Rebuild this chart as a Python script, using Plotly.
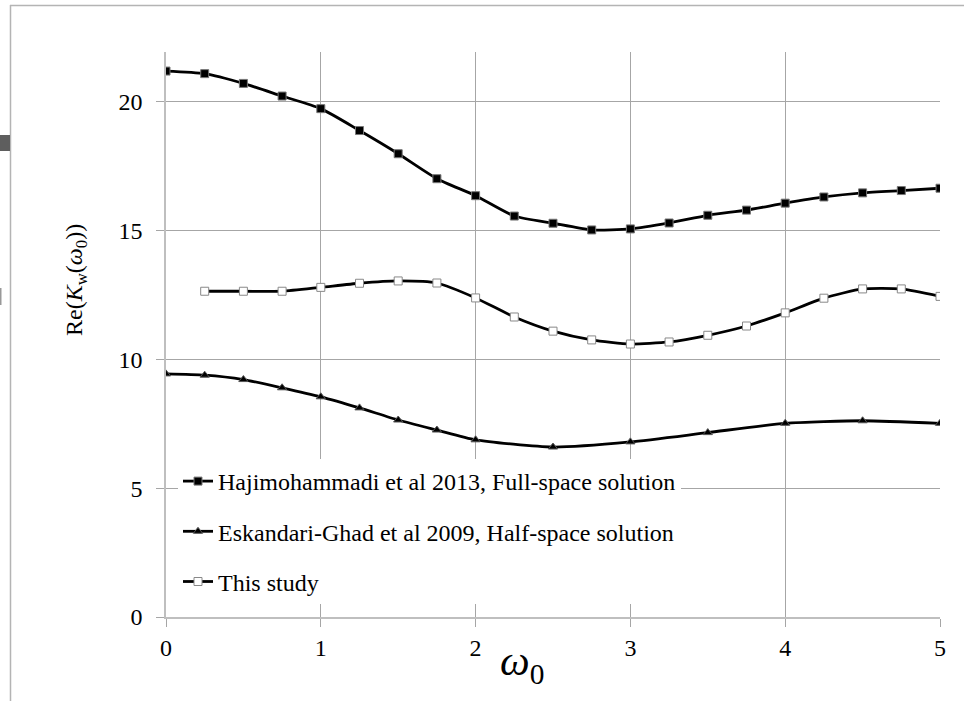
import plotly.graph_objects as go

# Data
x_haji = [0, 0.25, 0.5, 0.75, 1, 1.25, 1.5, 1.75, 2, 2.25, 2.5, 2.75, 3, 3.25, 3.5, 3.75, 4, 4.25, 4.5, 4.75, 5]
y_haji = [21.20, 21.10, 20.72, 20.23, 19.74, 18.89, 17.99, 17.02, 16.36, 15.57, 15.29, 15.03, 15.07, 15.30, 15.60, 15.80, 16.07, 16.31, 16.47, 16.56, 16.65]

x_esk = [0, 0.25, 0.5, 0.75, 1, 1.25, 1.5, 1.75, 2, 2.5, 3, 3.5, 4, 4.5, 5]
y_esk = [9.44, 9.39, 9.22, 8.90, 8.55, 8.12, 7.65, 7.26, 6.88, 6.60, 6.80, 7.16, 7.52, 7.62, 7.52]

x_this = [0.25, 0.5, 0.75, 1, 1.25, 1.5, 1.75, 2, 2.25, 2.5, 2.75, 3, 3.25, 3.5, 3.75, 4, 4.25, 4.5, 4.75, 5]
y_this = [12.65, 12.65, 12.65, 12.80, 12.96, 13.05, 12.97, 12.39, 11.65, 11.10, 10.76, 10.60, 10.68, 10.94, 11.30, 11.81, 12.38, 12.74, 12.74, 12.45]

names = ["Hajimohammadi et al 2013, Full-space solution",
         "Eskandari-Ghad et al 2009, Half-space solution",
         "This study"]
x_ticks = [0, 1, 2, 3, 4, 5]
y_ticks = [0, 5, 10, 15, 20]

W, H = 964, 701
L, R, T, B = 166, 940, 52, 617

def px(xp):
    return (xp - L) / (R - L)

def py(yp):
    return (B - yp) / (B - T)

font_serif = "Liberation Serif, Times New Roman, serif"

fig = go.Figure()
fig.add_trace(go.Scatter(
    x=x_haji, y=y_haji, name=names[0], mode="lines+markers",
    line=dict(color="black", width=2.8, shape="spline", smoothing=0.6),
    marker=dict(symbol="square", size=8, color="black", line=dict(color="#777777", width=1)),
    legendgroup="a"))
fig.add_trace(go.Scatter(
    x=x_esk, y=y_esk, name=names[1], mode="lines+markers",
    line=dict(color="black", width=2.8, shape="spline", smoothing=0.6),
    marker=dict(symbol="triangle-up", size=8, color="black", line=dict(color="#555555", width=1)),
    legendgroup="b"))
fig.add_trace(go.Scatter(
    x=x_this, y=y_this, name=names[2], mode="lines+markers",
    line=dict(color="black", width=2.8, shape="spline", smoothing=0.6),
    marker=dict(symbol="square", size=8, color="white", line=dict(color="#888888", width=1)),
    legendgroup="c"))

shapes = [
    dict(type="line", xref="paper", yref="paper", x0=px(10), x1=px(964), y0=py(5.5), y1=py(5.5),
         line=dict(color="#b4b4b4", width=1.5)),
    dict(type="line", xref="paper", yref="paper", x0=px(10.5), x1=px(10.5), y0=py(5), y1=py(701),
         line=dict(color="#b4b4b4", width=1.5)),
    dict(type="rect", xref="paper", yref="paper", x0=px(0), x1=px(10), y0=py(135), y1=py(151),
         fillcolor="#5e5e5e", line=dict(width=0)),
    dict(type="rect", xref="paper", yref="paper", x0=px(0), x1=px(1.5), y0=py(288), y1=py(305),
         fillcolor="#999999", line=dict(width=0)),
]

annotations = [
    dict(text="Re(<i>K</i><sub>w</sub>(<i>ω</i><sub>0</sub>))", xref="paper", yref="paper",
         x=px(76), y=py(280), textangle=-90, showarrow=False,
         font=dict(family=font_serif, size=24, color="black"), xanchor="center", yanchor="middle"),
    dict(text="<i>ω</i><sub>0</sub>", xref="paper", yref="paper",
         x=px(522), y=py(664), showarrow=False,
         font=dict(family=font_serif, size=42, color="black"), xanchor="center", yanchor="middle"),
]

fig.update_layout(
    width=W, height=H, autosize=False,
    margin=dict(l=L, r=W - R, t=T, b=H - B),
    paper_bgcolor="white", plot_bgcolor="white",
    font=dict(family=font_serif, size=24, color="black"),
    showlegend=True,
    legend=dict(x=px(178), y=py(459), xanchor="left", yanchor="top",
                bgcolor="white", borderwidth=0,
                font=dict(family=font_serif, size=24, color="black"),
                tracegroupgap=16, itemwidth=30),
    shapes=shapes, annotations=annotations,
)
fig.update_xaxes(range=[0, 5], tickvals=x_ticks, ticktext=[str(v) for v in x_ticks],
                 showgrid=True, gridcolor="#a6a6a6", gridwidth=1,
                 showline=True, linecolor="#bfbfbf", linewidth=1.5,
                 ticks="outside", ticklen=8, tickcolor="#a6a6a6",
                 tickfont=dict(family=font_serif, size=24, color="black"),
                 zeroline=False, fixedrange=True)
fig.update_yaxes(range=[0, 21.94], tickvals=y_ticks, ticktext=[str(v) for v in y_ticks],
                 showgrid=True, gridcolor="#a6a6a6", gridwidth=1,
                 showline=True, linecolor="#bfbfbf", linewidth=1.5,
                 ticks="outside", ticklen=8, tickcolor="#a6a6a6",
                 ticklabelstandoff=9,
                 tickfont=dict(family=font_serif, size=24, color="black"),
                 zeroline=False, fixedrange=True)

fig.write_html("out.html")
